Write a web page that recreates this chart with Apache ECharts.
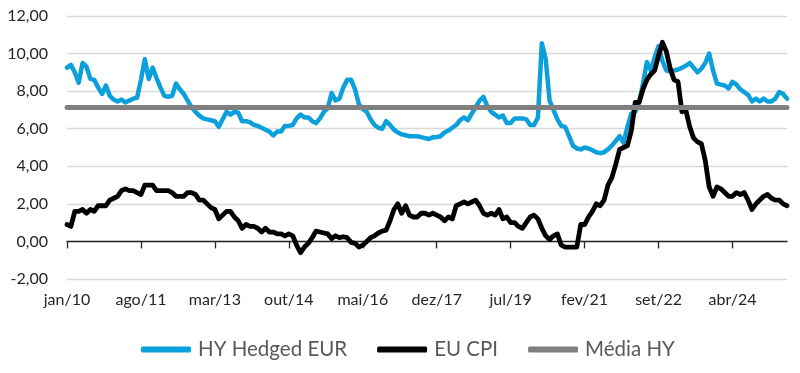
<!DOCTYPE html>
<html>
<head>
<meta charset="utf-8">
<script src="https://cdn.jsdelivr.net/npm/echarts@6/dist/echarts.min.js"></script>
<style>
html,body{margin:0;padding:0;background:#fff;}
#chart{width:800px;height:373px;}
</style>
</head>
<body>
<div id="chart"></div>
<script>
// Months Jan 2010 .. Jun 2025 (Portuguese abbreviations)
const monthNames = ['jan','fev','mar','abr','mai','jun','jul','ago','set','out','nov','dez'];
const startYear = 2010;
const nMonths = 186;
const categories = [];
for (let i = 0; i < nMonths; i++) {
  const y = startYear + Math.floor(i / 12);
  categories.push(monthNames[i % 12] + '/' + String(y).slice(2));
}

const hyHedgedEUR = [
  9.25, 9.4, 9.0, 8.45, 9.5, 9.3, 8.65, 8.6, 8.2, 7.85, 8.3, 7.75,
  7.55, 7.45, 7.55, 7.4, 7.5, 7.6, 7.65, 8.6, 9.7, 8.65, 9.25, 8.7,
  8.2, 7.75, 7.7, 7.75, 8.4, 8.1, 7.85, 7.5, 7.15, 6.9, 6.7, 6.55,
  6.5, 6.45, 6.4, 6.1, 6.5, 6.9, 6.75, 6.9, 6.85, 6.4, 6.4, 6.35,
  6.2, 6.15, 6.05, 5.95, 5.85, 5.65, 5.85, 5.85, 6.15, 6.15, 6.2, 6.55,
  6.75, 6.6, 6.6, 6.4, 6.3, 6.55, 6.9, 7.1, 7.9, 7.5, 7.6, 8.2,
  8.6, 8.6, 8.1, 7.3, 7.05, 6.9, 6.5, 6.2, 6.05, 6.0, 6.4, 6.2,
  5.95, 5.8, 5.7, 5.65, 5.6, 5.6, 5.6, 5.55, 5.5, 5.45, 5.55, 5.55,
  5.6, 5.8, 5.9, 6.05, 6.2, 6.45, 6.6, 6.45, 6.8, 7.15, 7.5, 7.7,
  7.2, 6.9, 6.75, 6.6, 6.7, 6.3, 6.3, 6.55, 6.55, 6.55, 6.5, 6.2,
  6.2, 6.6, 10.55, 9.7, 7.5, 7.0, 6.5, 6.15, 6.1, 5.6, 5.1, 4.95,
  4.9, 5.0, 4.95, 4.85, 4.75, 4.7, 4.75, 4.9, 5.1, 5.35, 5.6, 5.25,
  6.1, 6.8, 6.9, 7.4, 8.4, 9.55, 9.1, 9.8, 10.4, 9.6, 9.1, 9.05,
  9.1, 9.15, 9.25, 9.35, 9.5, 9.25, 9.0, 9.2, 9.5, 10.0, 9.1, 8.4,
  8.35, 8.3, 8.15, 8.5, 8.35, 8.1, 7.95, 7.8, 7.45, 7.6, 7.45, 7.6,
  7.45, 7.45, 7.6, 7.95, 7.85, 7.6
];

const euCPI = [
  0.9, 0.8, 1.6, 1.6, 1.7, 1.5, 1.7, 1.6, 1.9, 1.9, 1.9, 2.2,
  2.3, 2.4, 2.7, 2.8, 2.7, 2.7, 2.6, 2.5, 3.0, 3.0, 3.0, 2.7,
  2.7, 2.7, 2.7, 2.6, 2.4, 2.4, 2.4, 2.6, 2.6, 2.5, 2.2, 2.2,
  2.0, 1.8, 1.7, 1.2, 1.4, 1.6, 1.6, 1.3, 1.1, 0.7, 0.9, 0.8,
  0.8, 0.7, 0.5, 0.7, 0.5, 0.5, 0.4, 0.4, 0.3, 0.4, 0.3, -0.2,
  -0.6, -0.3, -0.1, 0.2, 0.55, 0.5, 0.45, 0.4, 0.15, 0.3, 0.2, 0.25,
  0.2, -0.05, -0.1, -0.3, -0.2, 0.0, 0.2, 0.3, 0.45, 0.55, 0.6, 1.1,
  1.7, 2.0, 1.5, 1.9, 1.4, 1.3, 1.3, 1.5, 1.5, 1.4, 1.5, 1.4,
  1.3, 1.1, 1.3, 1.2, 1.9, 2.0, 2.1, 2.0, 2.1, 2.2, 1.9, 1.5,
  1.4, 1.5, 1.4, 1.7, 1.2, 1.3, 1.0, 1.0, 0.8, 0.7, 1.0, 1.3,
  1.4, 1.2, 0.7, 0.3, 0.1, 0.3, 0.4, -0.2, -0.3, -0.3, -0.3, -0.3,
  0.9, 0.9, 1.3, 1.6, 2.0, 1.9, 2.2, 3.0, 3.4, 4.1, 4.9, 5.0,
  5.1, 5.9, 7.4, 7.4, 8.1, 8.6, 8.9, 9.1, 9.9, 10.6, 10.1, 9.2,
  8.6, 8.5, 6.9, 7.0, 6.1, 5.5, 5.3, 5.2, 4.3, 2.9, 2.4, 2.9,
  2.8, 2.6, 2.4, 2.4, 2.6, 2.5, 2.6, 2.2, 1.7, 2.0, 2.2, 2.4,
  2.5, 2.3, 2.2, 2.2, 2.0, 1.9
];

const mediaHYValue = 7.13;
const mediaHY = categories.map(() => mediaHYValue);

const yTicks = { min: -2, max: 12, interval: 2 };
const labelEvery = 19;

const FONT = 'Lato, "Open Sans", sans-serif';
const chart = echarts.init(document.getElementById('chart'), null, { renderer: 'canvas' });
chart.setOption({
  animation: false,
  backgroundColor: '#ffffff',
  grid: { left: 67, right: 13, top: 16, bottom: 94, containLabel: false },
  legend: {
    bottom: 8,
    left: 136,
    itemWidth: 50,
    itemHeight: 6,
    itemGap: 30,
    textStyle: { color: '#595959', fontSize: 20.5, fontFamily: FONT, padding: [0, 0, 0, 2] },
    data: [
      { name: 'HY Hedged EUR', icon: 'roundRect' },
      { name: 'EU CPI', icon: 'roundRect' },
      { name: 'Média HY', icon: 'roundRect' }
    ]
  },
  xAxis: [
    {
      type: 'category',
      data: categories,
      boundaryGap: false,
      axisLine: { onZero: true, lineStyle: { color: '#262626', width: 1.3 } },
      axisTick: { show: true, interval: labelEvery - 1, length: 7, lineStyle: { color: '#262626', width: 1.3 } },
      axisLabel: { show: false, interval: labelEvery - 1 },
      splitLine: { show: false }
    },
    {
      type: 'category',
      data: categories,
      boundaryGap: false,
      position: 'bottom',
      offset: 0,
      axisLine: { show: false, onZero: false },
      axisTick: { show: false },
      axisLabel: { interval: labelEvery - 1, margin: 13, color: '#262626', fontSize: 16, fontFamily: FONT },
      splitLine: { show: false }
    }
  ],
  yAxis: {
    type: 'value',
    min: yTicks.min,
    max: yTicks.max,
    interval: yTicks.interval,
    axisLine: { show: false },
    axisTick: { show: false },
    axisLabel: {
      margin: 19,
      color: '#262626',
      fontSize: 16,
      fontFamily: FONT,
      formatter: v => v.toFixed(2).replace('.', ',')
    },
    splitLine: { lineStyle: { color: '#d9d9d9', width: 1.3 } }
  },
  series: [
    {
      name: 'HY Hedged EUR', type: 'line', xAxisIndex: 0, data: hyHedgedEUR,
      symbol: 'none', color: '#0ba0dc',
      lineStyle: { width: 4.5, color: '#0ba0dc', join: 'round', cap: 'round' },
      itemStyle: { color: '#0ba0dc' }
    },
    {
      name: 'EU CPI', type: 'line', xAxisIndex: 0, data: euCPI,
      symbol: 'none', color: '#000000',
      lineStyle: { width: 4.8, color: '#000000', join: 'round', cap: 'round' },
      itemStyle: { color: '#000000' }
    },
    {
      name: 'Média HY', type: 'line', xAxisIndex: 0, data: mediaHY,
      symbol: 'none', color: '#7f7f7f',
      lineStyle: { width: 5, color: '#7f7f7f', cap: 'round' },
      itemStyle: { color: '#7f7f7f' }
    }
  ]
});
</script>
</body>
</html>
